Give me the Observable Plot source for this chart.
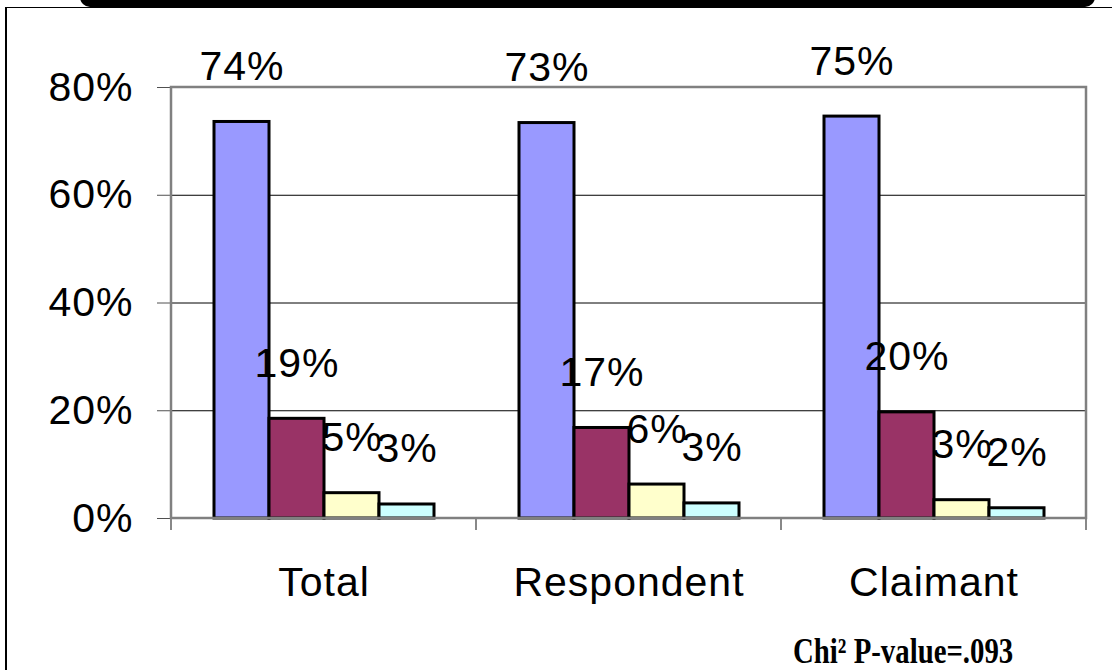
<!DOCTYPE html>
<html><head><meta charset="utf-8">
<script src="https://cdn.jsdelivr.net/npm/d3@7"></script>
<script src="https://cdn.jsdelivr.net/npm/@observablehq/plot@0.6"></script>
<style>
html,body{margin:0;padding:0;background:#fff;width:1112px;height:670px;overflow:hidden;font-family:"Liberation Sans",Arial,sans-serif;}
#wrap{position:relative;width:1112px;height:670px;}
#topbar{position:absolute;left:80px;right:17px;top:-12px;height:19px;background:#000;border-radius:0 0 10px 10px;}
#border{position:absolute;left:5px;top:7px;width:1200px;height:1000px;border-left:2px solid #000;border-top:1px solid #000;}
#chart{position:absolute;left:0;top:0;}
#note{position:absolute;left:793px;top:636px;height:30px;line-height:30px;font-family:"Liberation Serif","Times New Roman",serif;font-weight:bold;font-size:36px;transform-origin:left top;transform:scaleX(0.8);white-space:nowrap;color:#000;}
#chart svg text{letter-spacing:1px;}
</style></head>
<body>
<div id="wrap">
  <div id="border"></div>
  <div id="topbar"></div>
  <div id="chart"></div>
  <div id="note">Chi² P-value=.093</div>
</div>
<script>
const categories = ["Total", "Respondent", "Claimant"];
const series = ["Response 1", "Response 2", "Response 3", "Response 4"];
const colors = ["#9999FF", "#993366", "#FFFFCC", "#CCFFFF"];
const totalValues = [73.6, 18.5, 4.7, 2.6];
const respondentValues = [73.4, 16.8, 6.3, 2.8];
const claimantValues = [74.6, 19.7, 3.4, 1.9];
const yTicks = [0, 20, 40, 60, 80];
const gridTicks = [20, 40, 60];

const valuesByCategory = [totalValues, respondentValues, claimantValues];
const data = [];
categories.forEach((c, i) => {
  series.forEach((s, j) => data.push({category: c, series: s, value: valuesByCategory[i][j]}));
});

const chart = Plot.plot({
  width: 1112, height: 670,
  marginLeft: 170, marginRight: 26, marginTop: 87, marginBottom: 152,
  style: {fontFamily: "Liberation Sans, Arial, sans-serif", fontSize: "41px", background: "transparent", color: "#000", overflow: "visible"},
  fx: {domain: categories, padding: 0, label: null, tickSize: 0, tickPadding: 48, axis: "bottom"},
  x: {domain: series, paddingInner: 0, paddingOuter: 0.75, axis: null},
  y: {domain: [0, 80], ticks: yTicks, tickFormat: d => d + "%", tickSize: 14, tickPadding: 24, label: null},
  color: {domain: series, range: colors},
  marks: [
    Plot.ruleY(gridTicks, {stroke: "#000", strokeWidth: 1}),
    Plot.barY(data, {fx: "category", x: "series", y: "value", fill: "series", stroke: "#000", strokeWidth: 3}),
    Plot.text(data, {fx: "category", x: "series", y: "value", text: d => Math.round(d.value) + "%", dy: -42, lineAnchor: "bottom", fill: "#000"})
  ]
});
document.getElementById("chart").appendChild(chart);

// plot-area frame and category boundary ticks, derived from the scales
const svg = d3.select(chart.tagName.toLowerCase() === "svg" ? chart : chart.querySelector("svg"));
const fx = chart.scale("fx");
const ys = chart.scale("y");
const y0 = ys.apply(0), yTop = ys.apply(80);
const xLeft = fx.apply(categories[0]);
const xRight = fx.apply(categories[categories.length - 1]) + fx.bandwidth;
const bounds = categories.map(c => fx.apply(c)).concat([xRight]);
svg.append("g").selectAll("line").data(bounds).join("line")
  .attr("x1", d => d).attr("x2", d => d).attr("y1", y0).attr("y2", y0 + 12)
  .attr("stroke", "#606060").attr("stroke-width", 1.5);
svg.append("rect")
  .attr("x", xLeft).attr("y", yTop).attr("width", xRight - xLeft).attr("height", y0 - yTop)
  .attr("fill", "none").attr("stroke", "#808080").attr("stroke-width", 2.5);
svg.selectAll("[aria-label='y-axis tick'] path, [aria-label='y-axis tick'] line").attr("stroke", "#505050");
</script>
</body></html>
